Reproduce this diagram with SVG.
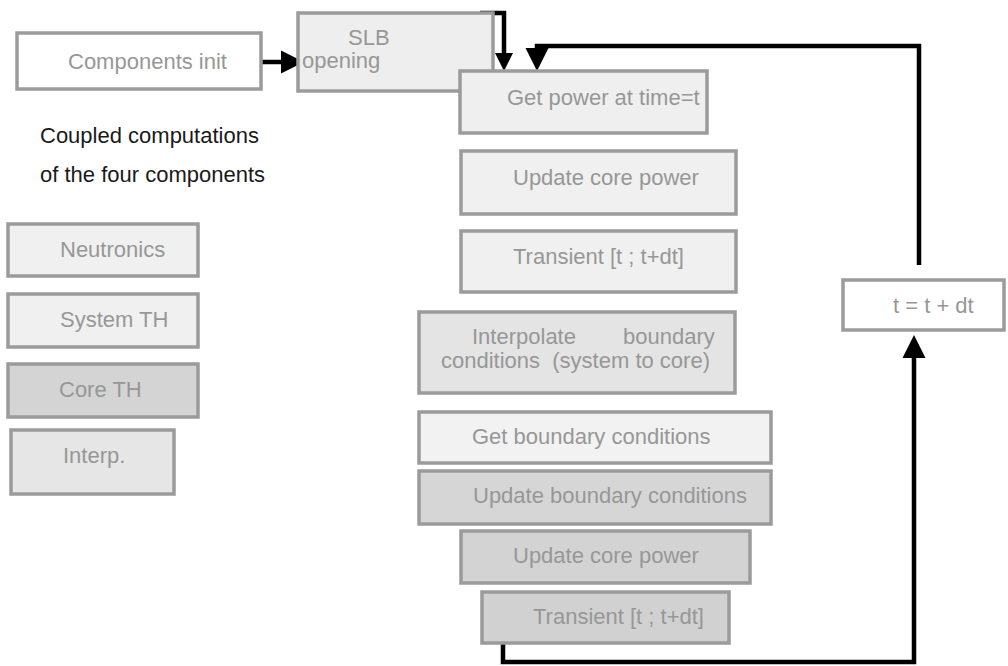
<svg xmlns="http://www.w3.org/2000/svg" width="1008" height="666" viewBox="0 0 1008 666">
<style>
.box{stroke:#9b9b9b;stroke-width:3.5}
.t{font-family:"Liberation Sans",Arial,sans-serif;font-size:22px;fill:#979797}
.lbl{font-family:"Liberation Sans",Arial,sans-serif;font-size:22px;fill:#1a1a1a}
.c{fill:none;stroke:#000;stroke-width:4.5;stroke-linejoin:miter}
</style>
<defs>
<marker id="ah" markerUnits="userSpaceOnUse" viewBox="0 0 10 10" refX="0" refY="5" markerWidth="23" markerHeight="24" orient="auto"><path d="M0,0 L10,5 L0,10 z" fill="#000"/></marker>
<marker id="ahs" markerUnits="userSpaceOnUse" viewBox="0 0 10 10" refX="0" refY="5" markerWidth="18" markerHeight="18" orient="auto"><path d="M0,0 L10,5 L0,10 z" fill="#000"/></marker>
</defs>
<rect width="1008" height="666" fill="#fff"/>
<g id="connectors">
<path class="c" d="M262,62 H281" marker-end="url(#ah)"/>
<path class="c" d="M480,13 H504 V53" marker-end="url(#ahs)"/>
<path class="c" d="M919,265 V46 H537 V48" marker-end="url(#ah)"/>
<path class="c" d="M503,643 V662 H914 V358" marker-end="url(#ah)"/>
</g>
<g id="components-init"><rect class="box" x="17" y="33" width="244" height="56" fill="#fff"/><text class="t" x="68" y="69">Components init</text></g>
<g id="slb-opening"><rect class="box" x="298" y="13" width="195" height="78" fill="#eeeeee"/><text class="t"><tspan x="348" y="45">SLB</tspan><tspan x="302" y="68">opening</tspan></text></g>
<g id="coupled-label"><text class="lbl"><tspan x="40" y="143">Coupled computations</tspan><tspan x="40" y="182">of the four components</tspan></text></g>
<g id="neutronics"><rect class="box" x="8" y="224" width="190" height="52" fill="#f0f0f0"/><text class="t" x="60" y="257">Neutronics</text></g>
<g id="system-th"><rect class="box" x="8" y="294" width="190" height="53" fill="#f0f0f0"/><text class="t" x="60" y="327">System TH</text></g>
<g id="core-th"><rect class="box" x="8" y="364" width="190" height="53" fill="#d4d4d4"/><text class="t" x="59" y="397">Core TH</text></g>
<g id="interp"><rect class="box" x="11" y="430" width="163" height="64" fill="#e6e6e6"/><text class="t" x="63" y="463">Interp.</text></g>
<g id="get-power"><rect class="box" x="460" y="71" width="247" height="62" fill="#efefef"/><text class="t" x="507" y="105">Get power at time=t</text></g>
<g id="update-core-power-1"><rect class="box" x="461" y="151" width="275" height="63" fill="#f0f0f0"/><text class="t" x="513" y="185">Update core power</text></g>
<g id="transient-1"><rect class="box" x="461" y="231" width="275" height="61" fill="#f0f0f0"/><text class="t" x="513" y="264">Transient [t ; t+dt]</text></g>
<g id="interpolate"><rect class="box" x="419" y="312" width="316" height="81" fill="#e4e4e4"/><text class="t"><tspan x="472" y="344">Interpolate</tspan><tspan x="623" y="344">boundary</tspan><tspan x="441" y="368" xml:space="preserve">conditions  (system to core)</tspan></text></g>
<g id="get-boundary"><rect class="box" x="419" y="412" width="352" height="51" fill="#f2f2f2"/><text class="t" x="472" y="444">Get boundary conditions</text></g>
<g id="update-boundary"><rect class="box" x="419" y="471" width="352" height="53" fill="#d6d6d6"/><text class="t" x="473" y="503">Update boundary conditions</text></g>
<g id="update-core-power-2"><rect class="box" x="461" y="531" width="289" height="52" fill="#d3d3d3"/><text class="t" x="513" y="563">Update core power</text></g>
<g id="transient-2"><rect class="box" x="482" y="592" width="247" height="51" fill="#d1d1d1"/><text class="t" x="533" y="624">Transient [t ; t+dt]</text></g>
<g id="t-update"><rect class="box" x="843" y="280" width="161" height="50" fill="#fff"/><text class="t" x="893" y="313">t = t + dt</text></g>
</svg>
